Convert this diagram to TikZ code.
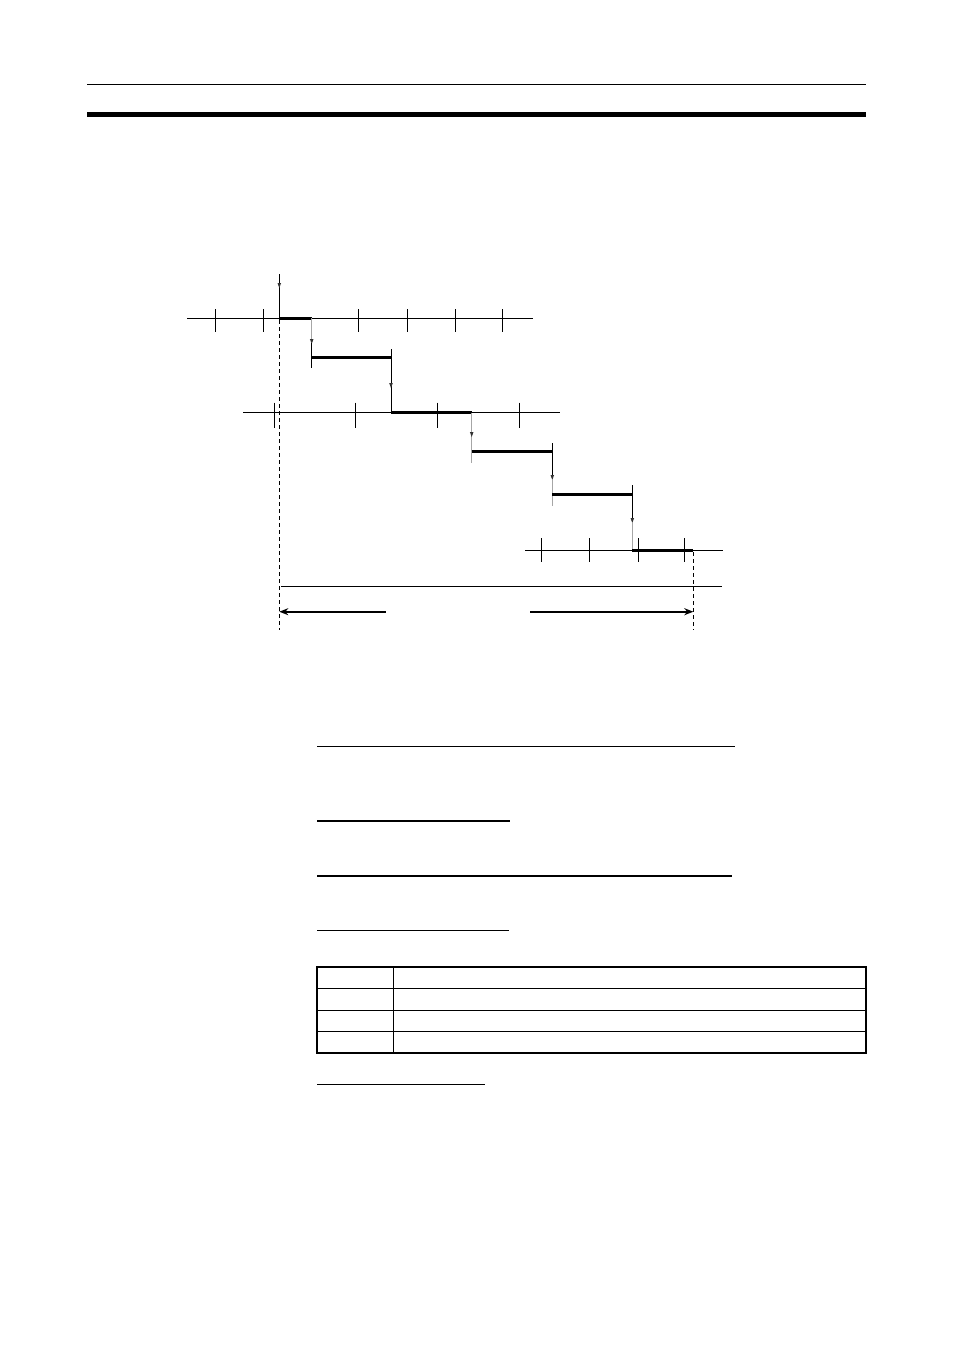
\documentclass[tikz,border=0pt]{standalone}
\usetikzlibrary{arrows.meta}
\tikzset{
  axis/.style={line width=0.9pt},
  tickmark/.style={line width=0.9pt},
  thickseg/.style={line width=3pt},
  grayline/.style={line width=1pt, draw=black!35},
  blackline/.style={line width=1pt},
  dashline/.style={line width=0.8pt, dash pattern=on 4pt off 3pt},
  uline/.style={line width=1.4pt},
  dimarrow/.style={line width=1.8pt, -{Stealth[length=9pt,width=7pt]}},
  tbl/.style={line width=1.2pt},
}
\newcommand{\darr}[2]{\fill[black!80] (#1,#2) -- ++(-1.8,-5) -- ++(3.6,0) -- cycle;}
\begin{document}
\begin{tikzpicture}[x=1pt,y=-1pt]
\useasboundingbox (0,0) rectangle (954,1351);
\fill[white] (0,0) rectangle (954,1351);
% header
\draw[line width=1.2pt] (87,84.3) -- (866,84.3);
\fill (87,112) rectangle (866,117);
% axis 1
\draw[axis] (187,318.3) -- (533,318.3);
\foreach \x in {215.3,263.3,358.3,407.3,455.3,502.3}
  \draw[tickmark] (\x,309) -- (\x,332.3);
% axis 2
\draw[axis] (243.3,412.5) -- (560,412.5);
\foreach \x in {274.7,355.7,437.7,519.3}
  \draw[tickmark] (\x,402.7) -- (\x,427.7);
% axis 3
\draw[axis] (525,550.3) -- (722.7,550.3);
\foreach \x in {541.7,589.3,638.3,684.3}
  \draw[tickmark] (\x,538.3) -- (\x,561.7);
% dashed verticals
\draw[dashline] (279.3,320) -- (279.3,630);
\draw[dashline] (693.3,552) -- (693.3,630);
% step 0
\draw[blackline] (279.3,274) -- (279.3,318.3);
\darr{279.3}{288}
\draw[thickseg] (279.3,318.3) -- (311.7,318.3);
% step 1
\draw[grayline] (311.7,318.3) -- (311.7,342);
\darr{311.7}{344}
\draw[blackline] (311.7,343) -- (311.7,368);
\draw[thickseg] (311.7,357.7) -- (391,357.7);
% step 2
\draw[blackline] (391,349.3) -- (391,412.5);
\darr{391}{388}
\draw[thickseg] (391,412.5) -- (471.7,412.5);
% step 3
\draw[grayline] (471.7,412.5) -- (471.7,462.7);
\darr{471.7}{437}
\draw[thickseg] (471.7,451.3) -- (552.3,451.3);
% step 4
\draw[blackline] (552.3,443.3) -- (552.3,478);
\darr{552.3}{480}
\draw[grayline] (552.3,480) -- (552.3,506);
\draw[thickseg] (552.3,494.3) -- (632.3,494.3);
% step 5
\draw[blackline] (632.3,485) -- (632.3,521);
\darr{632.3}{523}
\draw[grayline] (632.3,523) -- (632.3,550.3);
\draw[thickseg] (632.3,550.3) -- (693.3,550.3);
% bottom line and dimension arrows
\draw[axis] (281,586.3) -- (722,586.3);
\draw[dimarrow] (385.7,611.7) -- (279.3,611.7);
\draw[dimarrow] (530,611.7) -- (693.3,611.7);
% underlines
\draw[uline] (317,746.5) -- (734.5,746.5);
\draw[uline] (317,821) -- (509.6,821);
\draw[uline] (317,876) -- (731.5,876);
\draw[uline] (317,930.3) -- (509,930.3);
\draw[uline] (317,1084.3) -- (484.5,1084.3);
% table
\draw[line width=2pt] (317,967.3) rectangle (866,1053);
\draw[tbl] (317,988.5) -- (866,988.5);
\draw[tbl] (317,1010.3) -- (866,1010.3);
\draw[tbl] (317,1031.7) -- (866,1031.7);
\draw[line width=1.4pt] (393.2,967.3) -- (393.2,1053);
\end{tikzpicture}
\end{document}
